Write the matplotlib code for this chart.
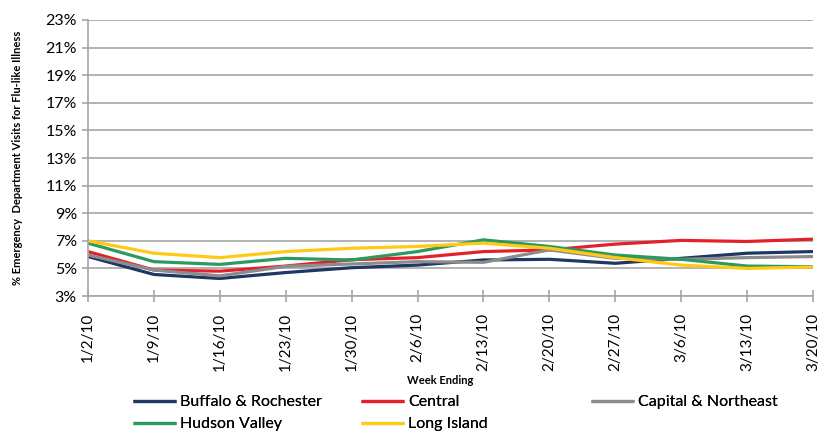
import matplotlib.pyplot as plt
import numpy as np

plt.rcParams['font.family'] = ['Lato', 'DejaVu Sans']

weeks = ["1/2/10", "1/9/10", "1/16/10", "1/23/10", "1/30/10", "2/6/10",
         "2/13/10", "2/20/10", "2/27/10", "3/6/10", "3/13/10", "3/20/10"]

buffalo = [5.86, 4.56, 4.27, 4.70, 5.05, 5.24, 5.61, 5.66, 5.37, 5.73, 6.10, 6.22]
central = [6.22, 4.88, 4.80, 5.17, 5.63, 5.78, 6.22, 6.34, 6.76, 7.03, 6.95, 7.12]
capital = [5.97, 4.88, 4.46, 5.15, 5.32, 5.49, 5.44, 6.34, 5.73, 5.66, 5.78, 5.86]
hudson = [6.83, 5.49, 5.29, 5.73, 5.61, 6.22, 7.07, 6.59, 5.97, 5.66, 5.17, 5.12]
longisland = [7.00, 6.10, 5.78, 6.22, 6.46, 6.59, 6.83, 6.46, 5.78, 5.24, 5.00, 5.10]

series = [("Buffalo & Rochester", buffalo, "#1F3764"),
          ("Central", central, "#E4212B"),
          ("Capital & Northeast", capital, "#8C8C8C"),
          ("Hudson Valley", hudson, "#2C9A5E"),
          ("Long Island", longisland, "#FFC915")]

fig = plt.figure(figsize=(8.25, 4.36), dpi=100)
ax = fig.add_axes([88 / 825, 1 - 296 / 436, (813 - 88) / 825, (296 - 20) / 436])

x = np.arange(len(weeks))
lines = {}
for name, vals, col in series:
    lines[name], = ax.plot(x, vals, color=col, lw=2.3, label=name, solid_capstyle='butt')

grid_col = "#A6A6A6"
ax.set_ylim(3, 23)
ax.set_yticks(np.arange(3, 24, 2))
ax.set_yticklabels([f"{v}%" for v in range(3, 24, 2)], fontsize=11.5)
ax.yaxis.grid(True, color=grid_col, lw=1.2)
ax.set_axisbelow(True)
ax.set_xlim(0, len(weeks) - 1)
ax.set_xticks(x)
ax.set_xticklabels(weeks, rotation=90, fontsize=11)
ax.tick_params(axis='x', direction='inout', length=8, color=grid_col, width=1.2, pad=8)
ax.tick_params(axis='y', direction='out', length=4, color=grid_col, width=1.2, pad=4)
for s in ['top', 'right']:
    ax.spines[s].set_visible(False)
for s in ['left', 'bottom']:
    ax.spines[s].set_color(grid_col)
    ax.spines[s].set_linewidth(1.2)

fig.text(440 / 825, 1 - 380 / 436, "Week Ending", fontsize=8, fontweight='bold',
         ha='center', va='center')
ax.set_ylabel("% Emergency  Department Visits for Flu-like Illness",
              fontsize=8, fontweight='bold', labelpad=16)

# legend laid out row by row, three columns
legend_cols = [["Buffalo & Rochester", "Hudson Valley"],
               ["Central", "Long Island"],
               ["Capital & Northeast"]]
col_x = [133, 361, 591]
for names, cx in zip(legend_cols, col_x):
    leg = fig.legend([lines[n] for n in names], names, loc='upper left',
                     bbox_to_anchor=(cx / 825, 1 - 395 / 436), frameon=False,
                     fontsize=11.5, handlelength=2.7, handletextpad=0.25,
                     labelspacing=0.5, borderaxespad=0, borderpad=0)
    fig.add_artist(leg)

fig.savefig("out.png", dpi=100)
